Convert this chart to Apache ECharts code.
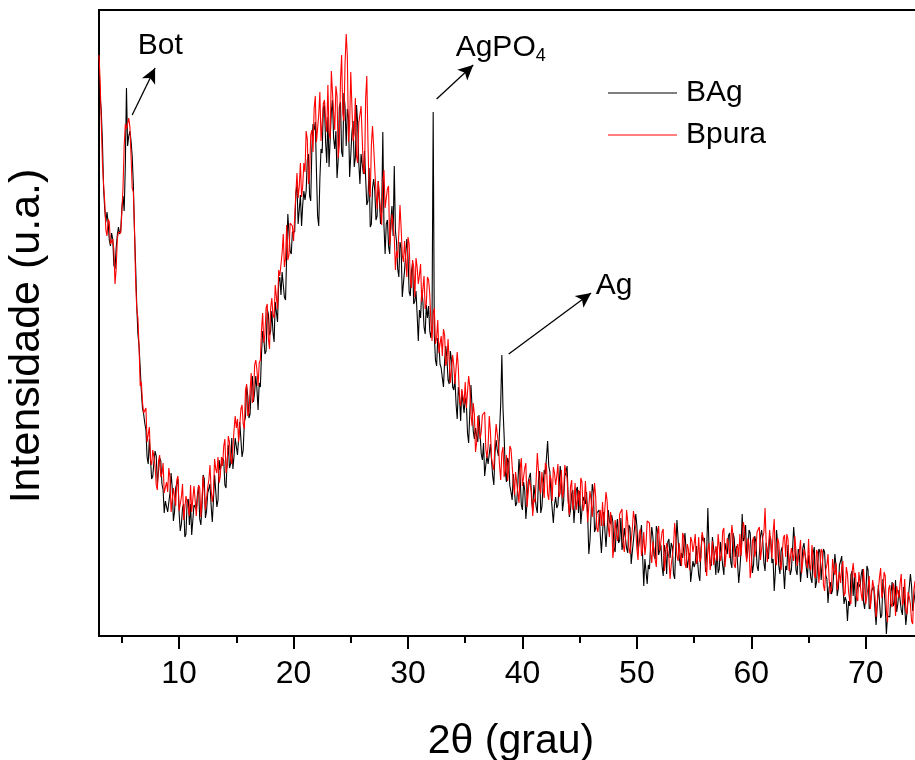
<!DOCTYPE html>
<html>
<head>
<meta charset="utf-8">
<script src="https://cdn.jsdelivr.net/npm/echarts@6/dist/echarts.min.js"></script>
<style>
html,body{margin:0;padding:0;background:#fff;}
#chart{width:915px;height:760px;}
</style>
</head>
<body>
<div id="chart"></div>
<script>
// 2θ sampling: start and step (degrees)
const angleStart = 3.0;
const angleStep = 0.1;

// Bpura (red) intensity, a.u.
const bpura = [
581,555,513,473,452,434,406,400,417,414,392,390,397,386,352,367,397,404,403,403,
424,449,490,512,507,508,518,509,480,448,444,407,355,327,318,289,250,254,234,223,
225,228,194,194,209,176,171,186,179,170,151,146,175,181,159,162,173,143,143,154,
144,168,159,124,125,148,148,130,156,160,125,123,139,152,116,114,140,141,128,120,
151,124,122,150,136,120,120,151,148,119,137,160,159,126,124,149,156,171,146,134,
143,177,167,163,179,153,160,179,170,190,197,163,170,200,194,178,172,170,206,220,
208,217,194,193,227,231,212,207,246,252,220,224,245,263,233,238,271,276,266,250,
273,276,306,323,293,302,328,332,297,287,328,338,321,318,351,349,327,366,360,360,
383,402,369,378,411,376,381,413,411,410,395,394,443,463,438,450,473,439,450,473,
464,505,497,452,461,501,506,484,528,540,494,494,521,544,495,493,532,536,517,504,
551,503,497,565,565,523,506,550,540,478,491,555,581,522,515,573,602,580,494,511,
564,563,495,502,538,480,473,513,511,530,531,465,462,538,560,495,445,439,491,510,
489,488,444,427,455,455,426,411,454,466,428,426,447,450,391,389,422,420,399,366,
385,378,403,431,408,381,374,395,376,359,399,392,357,348,376,369,339,378,369,352,
361,372,334,336,360,327,332,359,356,342,313,295,323,328,292,298,316,283,292,300,
280,307,301,270,275,297,297,253,253,281,271,252,251,284,268,235,230,247,249,232,
254,228,228,260,249,222,210,233,222,184,194,220,221,197,204,221,220,224,187,178,
190,220,205,178,171,166,194,212,202,192,170,156,183,189,159,165,181,155,167,190,
187,187,154,141,164,165,143,133,167,178,150,150,168,173,129,129,157,157,143,120,
137,134,157,183,166,147,143,164,150,138,173,170,142,136,161,157,135,169,163,151,
160,172,139,143,166,138,144,171,169,158,134,121,149,156,126,135,153,126,136,146,
130,158,154,125,131,155,156,114,115,145,136,119,119,153,139,108,104,122,126,110,
134,110,111,144,135,109,99,124,114,78,89,116,118,95,103,122,122,127,92,84,
97,126,114,89,82,80,107,125,117,107,87,76,102,107,80,87,104,81,92,115,
114,113,83,73,95,96,76,69,101,110,85,87,104,107,65,66,93,92,78,57,
71,69,90,113,98,80,75,93,80,70,103,99,72,68,92,87,66,99,95,84,
92,102,72,77,99,74,78,104,104,92,70,60,87,93,66,76,95,71,81,90,
75,102,101,75,81,105,108,69,69,98,93,78,78,111,100,71,68,86,92,79,
102,80,82,114,108,84,74,98,91,58,68,95,99,79,86,104,106,109,76,77,
98,104,128,92,74,75,106,105,78,103,117,75,71,98,93,75,66,65,98,101,
79,102,97,65,65,88,90,75,100,102,70,70,85,96,63,62,87,87,75,68,
97,70,66,91,78,61,58,86,83,53,67,87,84,51,45,66,71,82,56,42,
47,77,66,61,73,46,48,64,53,69,75,40,43,69,62,44,35,32,63,73,
59,63,38,35,64,63,42,35,67,67,32,33,49,60,27,29,56,54,40,19,
34,35,59,68,38,44,64,60,25,14,47,51,32,29,53,45,20,50,43,38,
53,62,31,35,57,25,22,44,39,32,15,12,46,55,32,37,52,20,22,38,
30
];

// BAg (black) intensity, a.u.
const bag = [
569,539,525,494,448,427,414,424,413,396,390,403,397,371,367,388,401,409,402,406,
428,440,425,470,548,490,500,505,495,480,452,405,370,330,302,290,268,245,228,222,
213,206,179,172,197,197,157,160,174,185,180,152,150,178,175,152,146,123,135,137,
124,126,143,163,148,115,124,148,150,157,123,105,112,128,132,99,102,134,137,111,
132,101,103,131,130,127,141,150,117,111,129,161,157,118,125,143,144,152,130,114,
136,161,161,129,136,176,166,165,178,175,151,148,176,191,168,172,198,167,180,198,
197,181,181,214,213,179,186,214,219,250,240,218,222,247,260,234,244,260,247,226,
253,249,282,305,298,282,285,327,322,301,305,325,304,294,334,333,314,354,359,341,
364,366,339,336,381,422,403,385,382,404,402,404,443,451,412,414,441,410,431,445,
436,445,476,482,440,435,487,512,506,514,465,420,410,457,487,483,528,531,494,473,
519,469,470,524,536,498,487,505,458,476,529,534,484,479,543,529,490,527,518,459,
457,503,515,469,478,531,513,473,452,482,483,462,485,485,431,435,468,409,412,448,
457,445,416,420,455,436,412,425,504,410,382,412,416,390,382,415,430,400,470,405,
394,367,359,394,388,339,339,366,367,397,379,344,340,364,373,332,335,345,321,295,
326,318,346,335,309,302,331,318,330,305,298,312,524,300,276,270,298,292,272,268,
258,249,275,290,278,256,252,285,276,249,246,257,232,217,249,240,215,245,246,223,
238,232,203,193,224,251,228,205,197,208,200,194,221,220,182,176,193,160,171,180,
172,174,192,193,160,151,183,196,186,180,205,232,281,228,200,165,154,178,174,150,
144,136,162,160,130,133,153,177,159,131,126,154,146,117,133,154,159,163,136,125,
151,152,129,123,156,165,123,129,149,166,162,160,195,170,164,141,139,113,131,139,
128,131,149,170,157,125,135,160,163,170,137,119,126,142,146,113,115,146,149,123,
145,112,113,139,137,132,144,120,82,95,122,152,145,104,108,123,121,126,101,83,
103,124,122,89,91,126,115,112,121,114,88,84,107,117,93,96,118,86,94,108,
106,88,83,111,108,72,74,96,98,122,110,85,83,102,111,80,50,77,77,52,
71,67,92,109,99,80,77,110,105,81,79,91,70,60,91,84,62,94,97,78,
93,89,62,57,88,116,97,78,70,83,78,77,103,103,68,66,83,54,65,75,
69,73,90,91,61,55,87,101,95,98,64,85,128,90,73,70,99,101,77,61,
89,63,67,94,94,70,61,93,86,82,100,103,74,68,103,98,79,90,72,53,
67,85,122,95,98,111,77,86,106,103,81,63,72,100,94,70,65,63,100,106,
95,73,65,93,91,77,100,97,73,77,45,64,106,93,70,62,85,89,67,47,
70,66,91,89,61,66,86,109,93,66,61,87,81,54,68,88,93,95,69,58,
81,81,58,53,83,89,48,54,72,87,84,56,56,87,84,61,57,33,49,54,
42,46,63,82,70,40,47,71,75,80,49,32,39,35,15,35,30,61,65,40,
59,29,28,54,53,49,61,67,34,27,41,70,66,27,30,45,45,50,26,11,
30,51,50,18,21,57,46,30,2,20,22,19,43,54,30,33,56,24,32,46,
44,26,21,49,47,11,13,36,38,62,50,25,24,43,52,24,27,36,19,2,
28
];

const seriesNames = ['BAg', 'Bpura'];
const majorTicks = [10, 20, 30, 40, 50, 60, 70];
const minorTicks = [5, 15, 25, 35, 45, 55, 65, 75];
const xMin = 3, xMax = 75;
const yMin = 0, yMax = 626;

// annotation labels (data coords) and arrows (data coords: from -> to)
const peakLabels = [
  {text: 'Bot', at: [8.35, 590]},
  {text: '{a|AgPO}{b|4}', at: [38.1, 588]},
  {text: 'Ag', at: [48.0, 350]}
];
const peakArrows = [
  [[5.9, 521], [7.9, 568]],
  [[32.5, 537], [35.7, 571]],
  [[38.8, 282], [46.0, 343]]
];

const FONT = '"Liberation Sans", Arial, Helvetica, sans-serif';
const toPairs = arr => arr.map((v, i) => [+(angleStart + i * angleStep).toFixed(2), v]);
const gridRect = {left: 99, top: 10, bottom: 124, right: -8, containLabel: false, outerBoundsMode: 'none'};

const chart = echarts.init(document.getElementById('chart'), null, {renderer: 'canvas'});
chart.setOption({
  animation: false,
  backgroundColor: '#fff',
  textStyle: {fontFamily: FONT, color: '#000'},
  grid: [
    Object.assign({show: true, borderColor: '#000', borderWidth: 2, backgroundColor: 'rgba(0,0,0,0)'}, gridRect),
    Object.assign({}, gridRect)
  ],
  legend: {
    data: seriesNames,
    orient: 'vertical',
    left: 603,
    top: 73,
    icon: 'rect',
    itemWidth: 69,
    itemHeight: 1,
    itemGap: 12,
    textStyle: {fontSize: 30, fontFamily: FONT, color: '#000', padding: [0, 0, 0, 4]}
  },
  xAxis: [
    {
      gridIndex: 0, type: 'value', min: xMin, max: xMax, position: 'bottom',
      axisLine: {show: true, lineStyle: {color: '#000', width: 2}},
      axisTick: {show: true, customValues: majorTicks, length: 13, lineStyle: {color: '#000', width: 2}},
      axisLabel: {show: true, customValues: majorTicks, fontSize: 32, margin: 22, color: '#000', fontFamily: FONT},
      splitLine: {show: false},
      name: '2θ (grau)', nameLocation: 'middle', nameGap: 85,
      nameTextStyle: {fontSize: 41, fontFamily: FONT, color: '#000'}
    },
    {
      gridIndex: 1, type: 'value', min: xMin, max: xMax, position: 'bottom',
      axisLine: {show: false},
      axisTick: {show: true, customValues: minorTicks, length: 7, lineStyle: {color: '#000', width: 2}},
      axisLabel: {show: false},
      splitLine: {show: false}
    }
  ],
  yAxis: [
    {
      gridIndex: 0, type: 'value', min: yMin, max: yMax,
      axisLine: {show: true, lineStyle: {color: '#000', width: 2}},
      axisTick: {show: false}, axisLabel: {show: false}, splitLine: {show: false},
      name: 'Intensidade (u.a.)', nameLocation: 'middle', nameGap: 50,
      nameTextStyle: {fontSize: 43, fontFamily: FONT, color: '#000', padding: [0, 26, 0, 0]}
    },
    {
      gridIndex: 1, type: 'value', min: yMin, max: yMax, show: false
    }
  ],
  series: [
    {
      name: 'BAg', type: 'line', data: toPairs(bag), symbol: 'none',
      xAxisIndex: 0, yAxisIndex: 0,
      lineStyle: {color: '#000', width: 1.1}, itemStyle: {color: '#000'},
      z: 2,
      markLine: {
        silent: true, symbol: ['none', 'arrow'], symbolSize: [11, 15],
        label: {show: false},
        lineStyle: {color: '#000', width: 1.3, type: 'solid'},
        data: peakArrows.map(a => [{coord: a[0]}, {coord: a[1]}])
      },
      markPoint: {
        silent: true, symbol: 'circle', symbolSize: 1,
        itemStyle: {color: 'rgba(0,0,0,0)'},
        label: {
          show: true, position: 'inside', color: '#000', fontSize: 30, fontFamily: FONT,
          rich: {
            a: {fontSize: 30, lineHeight: 35, fontFamily: FONT, color: '#000'},
            b: {fontSize: 18, lineHeight: 18, verticalAlign: 'bottom', fontFamily: FONT, color: '#000'}
          }
        },
        data: peakLabels.map(p => ({coord: p.at, label: {formatter: p.text}}))
      }
    },
    {
      name: 'Bpura', type: 'line', data: toPairs(bpura), symbol: 'none',
      xAxisIndex: 0, yAxisIndex: 0,
      lineStyle: {color: '#ff0000', width: 1.1}, itemStyle: {color: '#ff0000'},
      z: 3
    }
  ]
});
</script>
</body>
</html>
